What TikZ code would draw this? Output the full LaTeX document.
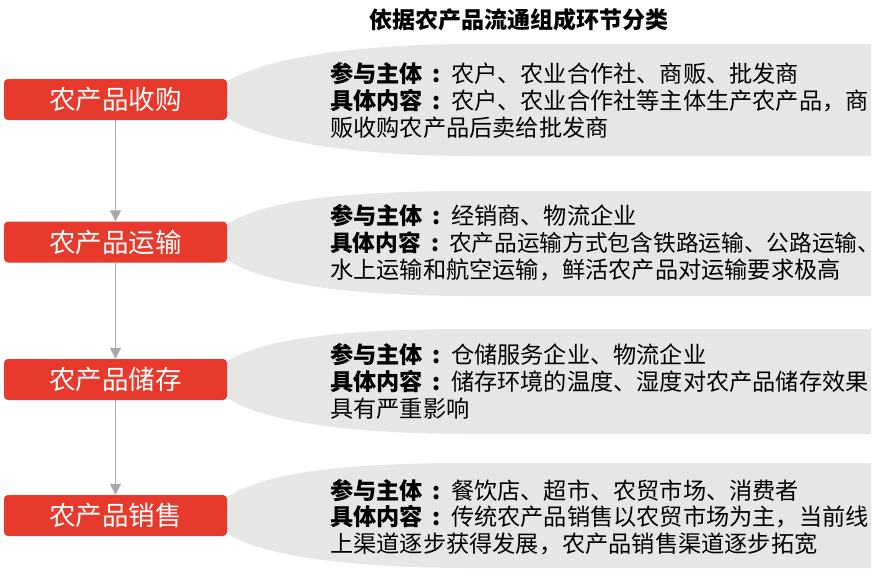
\documentclass[tikz,border=0pt]{standalone}
\usepackage{fontspec}
\setmainfont{Noto Sans CJK SC}
\usetikzlibrary{arrows.meta}
\definecolor{boxred}{RGB}{232,58,44}
\definecolor{calloutgray}{RGB}{230,230,230}
\definecolor{arrowgray}{RGB}{168,168,168}
\newcommand\mylabel[1]{{\bfseries #1\makebox[28pt][c]{:}}}
\tikzset{
  redbox/.style={fill=boxred, draw=none, rounded corners=4pt, minimum width=223pt, minimum height=41pt, inner sep=0pt, text=white, font=\fontsize{26.5}{30}\selectfont},
  flow/.style={draw=arrowgray, line width=1.3pt, -{Triangle[length=11pt,width=11pt]}},
  callout/.style={fill=calloutgray, draw=none},
  bodytext/.style={anchor=west, inner sep=0pt, font=\fontsize{23.2}{27}\selectfont, text=black},
  titletext/.style={inner sep=0pt, font=\bfseries\fontsize{23}{27}\selectfont, text=black}
}
\begin{document}
\begin{tikzpicture}[x=1pt, y=-1pt]
\useasboundingbox (0,0) rectangle (880,579);
% callouts
\fill[callout] (226,82) .. controls (270,54) and (380,44) .. (470,44) -- (871,44) -- (871,156) -- (470,156) .. controls (380,156) and (270,146) .. (226,117) -- cycle;
\fill[callout] (226,225) .. controls (270,195) and (380,191) .. (470,191) -- (871,191) -- (871,296) -- (470,296) .. controls (380,296) and (270,289) .. (226,259) -- cycle;
\fill[callout] (226,362) .. controls (270,333) and (380,329) .. (470,329) -- (871,329) -- (871,434) -- (470,434) .. controls (380,434) and (270,427) .. (226,397) -- cycle;
\fill[callout] (226,498) .. controls (270,467) and (380,463) .. (470,463) -- (871,463) -- (871,568) -- (470,568) .. controls (380,568) and (270,561) .. (226,533) -- cycle;
% title
\node[titletext] (title) at (519,20) {依据农产品流通组成环节分类};
% boxes
\node[redbox] (b1) at (115.5,99.5) {农产品收购};
\node[redbox] (b2) at (115.5,242) {农产品运输};
\node[redbox] (b3) at (115.5,379.5) {农产品储存};
\node[redbox] (b4) at (115.5,515.5) {农产品销售};
% arrows
\draw[flow] (b1.south) -- (b2.north);
\draw[flow] (b2.south) -- (b3.north);
\draw[flow] (b3.south) -- (b4.north);
% texts
\node[bodytext] (t1a) at (330,73.5) {\mylabel{参与主体}农户、农业合作社、商贩、批发商};
\node[bodytext] (t1b) at (330,100.5) {\mylabel{具体内容}农户、农业合作社等主体生产农产品，商};
\node[bodytext] (t1c) at (330,127.5) {贩收购农产品后卖给批发商};
\node[bodytext] (t2a) at (330,216) {\mylabel{参与主体}经销商、物流企业};
\node[bodytext, font=\fontsize{22.7}{27}\selectfont] (t2b) at (330,243) {\mylabel{具体内容}农产品运输方式包含铁路运输、公路运输\makebox[8pt][l]{、}};
\node[bodytext] (t2c) at (330,270) {水上运输和航空运输，鲜活农产品对运输要求极高};
\node[bodytext] (t3a) at (330,354.5) {\mylabel{参与主体}仓储服务企业、物流企业};
\node[bodytext] (t3b) at (330,381.5) {\mylabel{具体内容}储存环境的温度、湿度对农产品储存效果};
\node[bodytext] (t3c) at (330,408.5) {具有严重影响};
\node[bodytext] (t4a) at (330,490) {\mylabel{参与主体}餐饮店、超市、农贸市场、消费者};
\node[bodytext] (t4b) at (330,517) {\mylabel{具体内容}传统农产品销售以农贸市场为主，当前线};
\node[bodytext] (t4c) at (330,544) {上渠道逐步获得发展，农产品销售渠道逐步拓宽};
\end{tikzpicture}
\end{document}
